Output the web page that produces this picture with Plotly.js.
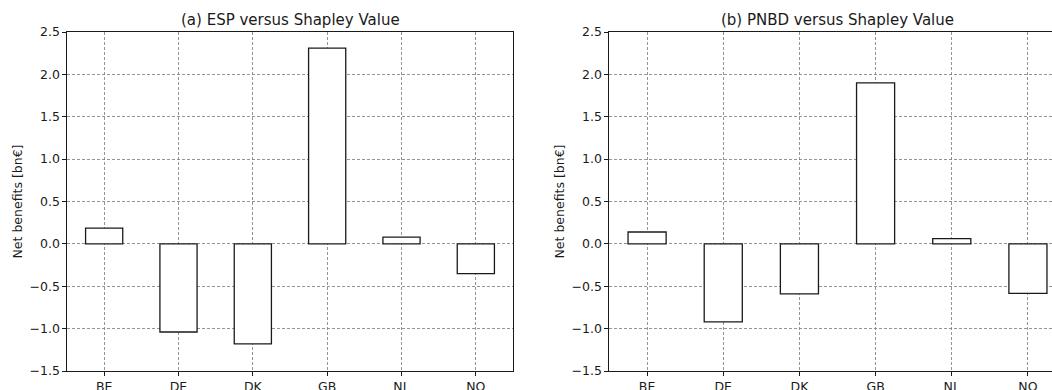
<!DOCTYPE html>
<html>
<head>
<meta charset="utf-8">
<script src="https://cdn.plot.ly/plotly-3.0.1.min.js"></script>
<style>html,body{margin:0;padding:0;background:#fff;overflow:hidden}#chart{width:1052px;height:390px}</style>
</head>
<body>
<div id="chart"></div>
<script>
const countries = ["BE", "DE", "DK", "GB", "NL", "NO"];
const espVsShapley = [0.185, -1.04, -1.18, 2.31, 0.079, -0.35];
const pnbdVsShapley = [0.14, -0.92, -0.59, 1.90, 0.063, -0.585];
const yTicks = [-1.5, -1.0, -0.5, 0.0, 0.5, 1.0, 1.5, 2.0, 2.5];
const titles = ["(a) ESP versus Shapley Value", "(b) PNBD versus Shapley Value"];
const yLabel = "Net benefits [bn€]";

const W = 1052, H = 390;
const font = {family: "DejaVu Sans, sans-serif", size: 12.5, color: "#1a1a1a"};
const labelFont = {family: "DejaVu Sans, sans-serif", size: 12.5, color: "#1a1a1a"};

function bar(y, xa, ya) {
  return {
    type: "bar", x: countries, y: y, xaxis: xa, yaxis: ya,
    width: 0.5,
    marker: {color: "#ffffff", line: {color: "#1a1a1a", width: 1.3}},
    hoverinfo: "x+y", showlegend: false
  };
}

const gridCommon = {
  showgrid: true, gridcolor: "#7a7a7a", griddash: "3px,2px", gridwidth: 0.8,
  zeroline: false, showline: true, linecolor: "#1a1a1a", linewidth: 1.1,
  ticks: "outside", ticklen: 3.5, tickwidth: 1, tickcolor: "#1a1a1a",
  tickfont: font
};

const yCommon = Object.assign({}, gridCommon, {
  range: [-1.5, 2.5], tickvals: yTicks, tickformat: ".1f",
  domain: [19 / H, (H - 32) / H],
  title: {text: yLabel, font: labelFont, standoff: 4}
});

const layout = {
  width: W, height: H,
  margin: {l: 0, r: 0, t: 0, b: 0},
  paper_bgcolor: "#fff", plot_bgcolor: "#fff",
  font: font,
  bargap: 0.5,
  xaxis: Object.assign({}, gridCommon, {
    domain: [67 / W, 513 / W], range: [-0.5, 5.5], mirror: true,
    type: "category", anchor: "y"
  }),
  yaxis: Object.assign({}, yCommon, {anchor: "x", mirror: true}),
  xaxis2: Object.assign({}, gridCommon, {
    domain: [609 / W, 1], range: [-0.5, 5.5 - (1066 - 1052) / 76.1], mirror: true,
    type: "category", anchor: "y2"
  }),
  yaxis2: Object.assign({}, yCommon, {anchor: "x2", mirror: false}),
  annotations: [
    {text: titles[0], xref: "paper", yref: "paper", x: (67 + 513) / 2 / W, y: 1 - 20 / H,
     xanchor: "center", yanchor: "middle", showarrow: false,
     font: {family: font.family, size: 15, color: "#1a1a1a"}},
    {text: titles[1], xref: "paper", yref: "paper", x: (609 + 1066) / 2 / W, y: 1 - 20 / H,
     xanchor: "center", yanchor: "middle", showarrow: false,
     font: {family: font.family, size: 15, color: "#1a1a1a"}}
  ]
};

Plotly.newPlot("chart", [bar(espVsShapley, "x", "y"), bar(pnbdVsShapley, "x2", "y2")], layout,
  {staticPlot: true, displayModeBar: false});
</script>
</body>
</html>
